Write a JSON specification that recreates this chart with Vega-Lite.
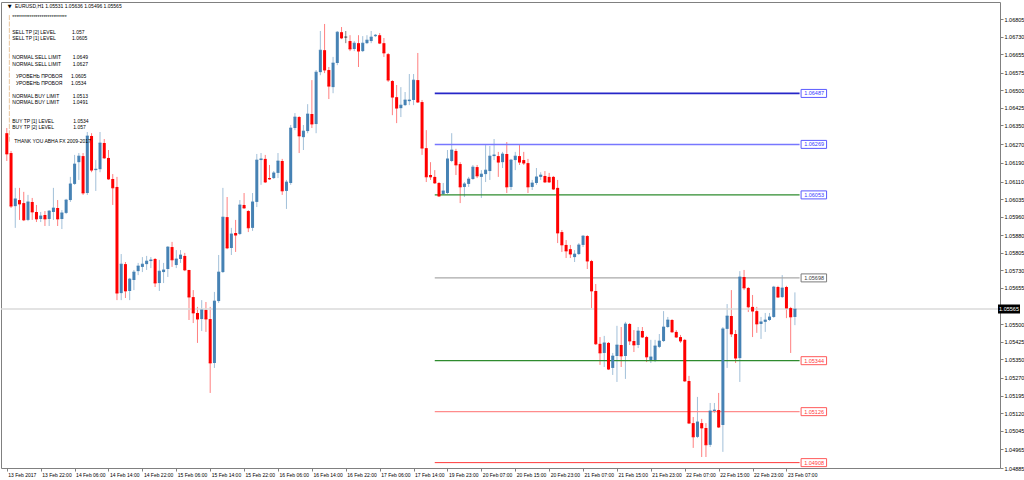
{
 "$schema": "https://vega.github.io/schema/vega-lite/v6.json",
 "width": 999,
 "height": 466,
 "autosize": {"type": "none"},
 "padding": {"left": 1, "top": 2, "right": 24, "bottom": 12},
 "background": "#ffffff",
 "config": {"view": {"stroke": "#808080", "strokeWidth": 1}, "font": "Liberation Sans", "axis": {"labelOverlap": false, "labelFlush": false, "labelBound": false, "labelSeparation": 0}},
 "resolve": {"scale": {"color": "independent", "stroke": "independent", "fill": "independent", "strokeWidth": "independent"}},
 "datasets": {
  "candles": [
   {"t":0,"o":1.06317,"h":1.06339,"l":1.06198,"c":1.06228},
   {"t":1,"o":1.06232,"h":1.06241,"l":1.05997,"c":1.06005},
   {"t":2,"o":1.06005,"h":1.06083,"l":1.05912,"c":1.06036},
   {"t":3,"o":1.06031,"h":1.06083,"l":1.05946,"c":1.06014},
   {"t":4,"o":1.06018,"h":1.06066,"l":1.05941,"c":1.05946},
   {"t":5,"o":1.05946,"h":1.06053,"l":1.05941,"c":1.06023},
   {"t":6,"o":1.06023,"h":1.06040,"l":1.05946,"c":1.05980},
   {"t":7,"o":1.05980,"h":1.06010,"l":1.05937,"c":1.05950},
   {"t":8,"o":1.05950,"h":1.05980,"l":1.05937,"c":1.05963},
   {"t":9,"o":1.05967,"h":1.05984,"l":1.05920,"c":1.05950},
   {"t":10,"o":1.05950,"h":1.05988,"l":1.05920,"c":1.05984},
   {"t":11,"o":1.05980,"h":1.06083,"l":1.05946,"c":1.05997},
   {"t":12,"o":1.05997,"h":1.06031,"l":1.05920,"c":1.05950},
   {"t":13,"o":1.05950,"h":1.05988,"l":1.05907,"c":1.05976},
   {"t":14,"o":1.05976,"h":1.06036,"l":1.05971,"c":1.06031},
   {"t":15,"o":1.06031,"h":1.06130,"l":1.06023,"c":1.06100},
   {"t":16,"o":1.06100,"h":1.06224,"l":1.06096,"c":1.06185},
   {"t":17,"o":1.06193,"h":1.06232,"l":1.06117,"c":1.06219},
   {"t":18,"o":1.06219,"h":1.06232,"l":1.06053,"c":1.06061},
   {"t":19,"o":1.06061,"h":1.06322,"l":1.06053,"c":1.06305},
   {"t":20,"o":1.06305,"h":1.06317,"l":1.06150,"c":1.06159},
   {"t":21,"o":1.06159,"h":1.06202,"l":1.06070,"c":1.06163},
   {"t":22,"o":1.06163,"h":1.06322,"l":1.06150,"c":1.06275},
   {"t":23,"o":1.06275,"h":1.06292,"l":1.06207,"c":1.06211},
   {"t":24,"o":1.06211,"h":1.06245,"l":1.06117,"c":1.06121},
   {"t":25,"o":1.06121,"h":1.06142,"l":1.06010,"c":1.06083},
   {"t":26,"o":1.06087,"h":1.06130,"l":1.05603,"c":1.05633},
   {"t":27,"o":1.05633,"h":1.05800,"l":1.05603,"c":1.05757},
   {"t":28,"o":1.05757,"h":1.05766,"l":1.05612,"c":1.05642},
   {"t":29,"o":1.05642,"h":1.05698,"l":1.05603,"c":1.05693},
   {"t":30,"o":1.05689,"h":1.05732,"l":1.05646,"c":1.05723},
   {"t":31,"o":1.05727,"h":1.05762,"l":1.05710,"c":1.05749},
   {"t":32,"o":1.05745,"h":1.05787,"l":1.05723,"c":1.05757},
   {"t":33,"o":1.05757,"h":1.05792,"l":1.05732,"c":1.05770},
   {"t":34,"o":1.05770,"h":1.05787,"l":1.05740,"c":1.05775},
   {"t":35,"o":1.05779,"h":1.05783,"l":1.05659,"c":1.05676},
   {"t":36,"o":1.05676,"h":1.05775,"l":1.05642,"c":1.05727},
   {"t":37,"o":1.05723,"h":1.05762,"l":1.05676,"c":1.05732},
   {"t":38,"o":1.05736,"h":1.05834,"l":1.05702,"c":1.05830},
   {"t":39,"o":1.05830,"h":1.05852,"l":1.05745,"c":1.05775},
   {"t":40,"o":1.05753,"h":1.05817,"l":1.05740,"c":1.05779},
   {"t":41,"o":1.05779,"h":1.05817,"l":1.05762,"c":1.05796},
   {"t":42,"o":1.05792,"h":1.05805,"l":1.05727,"c":1.05732},
   {"t":43,"o":1.05732,"h":1.05732,"l":1.05518,"c":1.05616},
   {"t":44,"o":1.05616,"h":1.05646,"l":1.05505,"c":1.05548},
   {"t":45,"o":1.05548,"h":1.05574,"l":1.05420,"c":1.05522},
   {"t":46,"o":1.05522,"h":1.05603,"l":1.05471,"c":1.05561},
   {"t":47,"o":1.05561,"h":1.05595,"l":1.05467,"c":1.05522},
   {"t":48,"o":1.05522,"h":1.05574,"l":1.05206,"c":1.05334},
   {"t":49,"o":1.05334,"h":1.05638,"l":1.05313,"c":1.05599},
   {"t":50,"o":1.05599,"h":1.05796,"l":1.05591,"c":1.05723},
   {"t":51,"o":1.05723,"h":1.06083,"l":1.05719,"c":1.05958},
   {"t":52,"o":1.05958,"h":1.06044,"l":1.05821,"c":1.05826},
   {"t":53,"o":1.05826,"h":1.05912,"l":1.05796,"c":1.05886},
   {"t":54,"o":1.05890,"h":1.05946,"l":1.05809,"c":1.05881},
   {"t":55,"o":1.05886,"h":1.06031,"l":1.05881,"c":1.06010},
   {"t":56,"o":1.06010,"h":1.06061,"l":1.05993,"c":1.05997},
   {"t":57,"o":1.05984,"h":1.05988,"l":1.05894,"c":1.05912},
   {"t":58,"o":1.05912,"h":1.06061,"l":1.05899,"c":1.06023},
   {"t":59,"o":1.06023,"h":1.06228,"l":1.06001,"c":1.06202},
   {"t":60,"o":1.06202,"h":1.06232,"l":1.06096,"c":1.06207},
   {"t":61,"o":1.06207,"h":1.06224,"l":1.06104,"c":1.06108},
   {"t":62,"o":1.06125,"h":1.06181,"l":1.06117,"c":1.06121},
   {"t":63,"o":1.06125,"h":1.06155,"l":1.06121,"c":1.06147},
   {"t":64,"o":1.06147,"h":1.06232,"l":1.06125,"c":1.06198},
   {"t":65,"o":1.06198,"h":1.06207,"l":1.06053,"c":1.06070},
   {"t":66,"o":1.06070,"h":1.06117,"l":1.05993,"c":1.06108},
   {"t":67,"o":1.06104,"h":1.06352,"l":1.06096,"c":1.06339},
   {"t":68,"o":1.06339,"h":1.06403,"l":1.06330,"c":1.06386},
   {"t":69,"o":1.06386,"h":1.06390,"l":1.06232,"c":1.06305},
   {"t":70,"o":1.06300,"h":1.06352,"l":1.06245,"c":1.06326},
   {"t":71,"o":1.06326,"h":1.06441,"l":1.06317,"c":1.06399},
   {"t":72,"o":1.06399,"h":1.06544,"l":1.06339,"c":1.06356},
   {"t":73,"o":1.06356,"h":1.06587,"l":1.06317,"c":1.06578},
   {"t":74,"o":1.06578,"h":1.06754,"l":1.06565,"c":1.06672},
   {"t":75,"o":1.06672,"h":1.06784,"l":1.06574,"c":1.06587},
   {"t":76,"o":1.06587,"h":1.06600,"l":1.06463,"c":1.06518},
   {"t":77,"o":1.06514,"h":1.06643,"l":1.06488,"c":1.06617},
   {"t":78,"o":1.06617,"h":1.06754,"l":1.06608,"c":1.06749},
   {"t":79,"o":1.06749,"h":1.06771,"l":1.06719,"c":1.06724},
   {"t":80,"o":1.06728,"h":1.06754,"l":1.06702,"c":1.06728},
   {"t":81,"o":1.06711,"h":1.06736,"l":1.06668,"c":1.06677},
   {"t":82,"o":1.06677,"h":1.06711,"l":1.06668,"c":1.06702},
   {"t":83,"o":1.06702,"h":1.06736,"l":1.06600,"c":1.06668},
   {"t":84,"o":1.06668,"h":1.06732,"l":1.06664,"c":1.06702},
   {"t":85,"o":1.06702,"h":1.06736,"l":1.06698,"c":1.06715},
   {"t":86,"o":1.06711,"h":1.06754,"l":1.06702,"c":1.06728},
   {"t":87,"o":1.06732,"h":1.06741,"l":1.06728,"c":1.06736},
   {"t":88,"o":1.06736,"h":1.06745,"l":1.06698,"c":1.06702},
   {"t":89,"o":1.06702,"h":1.06724,"l":1.06643,"c":1.06660},
   {"t":90,"o":1.06655,"h":1.06660,"l":1.06536,"c":1.06544},
   {"t":91,"o":1.06540,"h":1.06544,"l":1.06394,"c":1.06471},
   {"t":92,"o":1.06471,"h":1.06523,"l":1.06360,"c":1.06424},
   {"t":93,"o":1.06424,"h":1.06514,"l":1.06386,"c":1.06437},
   {"t":94,"o":1.06437,"h":1.06493,"l":1.06433,"c":1.06459},
   {"t":95,"o":1.06454,"h":1.06570,"l":1.06437,"c":1.06459},
   {"t":96,"o":1.06459,"h":1.06570,"l":1.06437,"c":1.06544},
   {"t":97,"o":1.06544,"h":1.06660,"l":1.06446,"c":1.06450},
   {"t":98,"o":1.06450,"h":1.06459,"l":1.06224,"c":1.06253},
   {"t":99,"o":1.06253,"h":1.06330,"l":1.06108,"c":1.06130},
   {"t":100,"o":1.06138,"h":1.06193,"l":1.06117,"c":1.06130},
   {"t":101,"o":1.06130,"h":1.06159,"l":1.06100,"c":1.06104},
   {"t":102,"o":1.06104,"h":1.06108,"l":1.06044,"c":1.06048},
   {"t":103,"o":1.06057,"h":1.06104,"l":1.06053,"c":1.06070},
   {"t":104,"o":1.06061,"h":1.06245,"l":1.06057,"c":1.06207},
   {"t":105,"o":1.06198,"h":1.06317,"l":1.06193,"c":1.06245},
   {"t":106,"o":1.06241,"h":1.06250,"l":1.06138,"c":1.06181},
   {"t":107,"o":1.06185,"h":1.06193,"l":1.06018,"c":1.06087},
   {"t":108,"o":1.06087,"h":1.06108,"l":1.06044,"c":1.06100},
   {"t":109,"o":1.06100,"h":1.06130,"l":1.06087,"c":1.06121},
   {"t":110,"o":1.06121,"h":1.06181,"l":1.06117,"c":1.06172},
   {"t":111,"o":1.06172,"h":1.06181,"l":1.06125,"c":1.06134},
   {"t":112,"o":1.06130,"h":1.06159,"l":1.06040,"c":1.06142},
   {"t":113,"o":1.06142,"h":1.06266,"l":1.06108,"c":1.06159},
   {"t":114,"o":1.06155,"h":1.06262,"l":1.06117,"c":1.06219},
   {"t":115,"o":1.06219,"h":1.06292,"l":1.06202,"c":1.06224},
   {"t":116,"o":1.06219,"h":1.06237,"l":1.06130,"c":1.06193},
   {"t":117,"o":1.06193,"h":1.06237,"l":1.06168,"c":1.06228},
   {"t":118,"o":1.06228,"h":1.06279,"l":1.06061,"c":1.06087},
   {"t":119,"o":1.06087,"h":1.06207,"l":1.06074,"c":1.06202},
   {"t":120,"o":1.06202,"h":1.06237,"l":1.06159,"c":1.06219},
   {"t":121,"o":1.06219,"h":1.06266,"l":1.06181,"c":1.06193},
   {"t":122,"o":1.06202,"h":1.06237,"l":1.06181,"c":1.06189},
   {"t":123,"o":1.06189,"h":1.06207,"l":1.06061,"c":1.06087},
   {"t":124,"o":1.06087,"h":1.06117,"l":1.06074,"c":1.06104},
   {"t":125,"o":1.06104,"h":1.06168,"l":1.06096,"c":1.06130},
   {"t":126,"o":1.06130,"h":1.06150,"l":1.06117,"c":1.06138},
   {"t":127,"o":1.06134,"h":1.06155,"l":1.06104,"c":1.06108},
   {"t":128,"o":1.06130,"h":1.06147,"l":1.06104,"c":1.06108},
   {"t":129,"o":1.06130,"h":1.06134,"l":1.06074,"c":1.06078},
   {"t":130,"o":1.06083,"h":1.06117,"l":1.05847,"c":1.05890},
   {"t":131,"o":1.05894,"h":1.05903,"l":1.05809,"c":1.05839},
   {"t":132,"o":1.05839,"h":1.05860,"l":1.05783,"c":1.05813},
   {"t":133,"o":1.05821,"h":1.05839,"l":1.05783,"c":1.05800},
   {"t":134,"o":1.05787,"h":1.05817,"l":1.05766,"c":1.05800},
   {"t":135,"o":1.05800,"h":1.05847,"l":1.05796,"c":1.05839},
   {"t":136,"o":1.05839,"h":1.05881,"l":1.05830,"c":1.05877},
   {"t":137,"o":1.05877,"h":1.05881,"l":1.05736,"c":1.05770},
   {"t":138,"o":1.05770,"h":1.05775,"l":1.05569,"c":1.05642},
   {"t":139,"o":1.05642,"h":1.05672,"l":1.05411,"c":1.05416},
   {"t":140,"o":1.05416,"h":1.05445,"l":1.05326,"c":1.05377},
   {"t":141,"o":1.05377,"h":1.05450,"l":1.05317,"c":1.05420},
   {"t":142,"o":1.05420,"h":1.05424,"l":1.05304,"c":1.05308},
   {"t":143,"o":1.05313,"h":1.05377,"l":1.05283,"c":1.05364},
   {"t":144,"o":1.05364,"h":1.05493,"l":1.05253,"c":1.05411},
   {"t":145,"o":1.05411,"h":1.05488,"l":1.05317,"c":1.05364},
   {"t":146,"o":1.05364,"h":1.05510,"l":1.05266,"c":1.05501},
   {"t":147,"o":1.05501,"h":1.05505,"l":1.05411,"c":1.05428},
   {"t":148,"o":1.05428,"h":1.05475,"l":1.05381,"c":1.05411},
   {"t":149,"o":1.05411,"h":1.05488,"l":1.05398,"c":1.05471},
   {"t":150,"o":1.05471,"h":1.05488,"l":1.05441,"c":1.05445},
   {"t":151,"o":1.05445,"h":1.05450,"l":1.05338,"c":1.05360},
   {"t":152,"o":1.05347,"h":1.05433,"l":1.05334,"c":1.05360},
   {"t":153,"o":1.05347,"h":1.05433,"l":1.05338,"c":1.05407},
   {"t":154,"o":1.05403,"h":1.05458,"l":1.05398,"c":1.05428},
   {"t":155,"o":1.05428,"h":1.05556,"l":1.05424,"c":1.05488},
   {"t":156,"o":1.05488,"h":1.05531,"l":1.05484,"c":1.05518},
   {"t":157,"o":1.05518,"h":1.05522,"l":1.05463,"c":1.05467},
   {"t":158,"o":1.05467,"h":1.05475,"l":1.05441,"c":1.05445},
   {"t":159,"o":1.05445,"h":1.05454,"l":1.05420,"c":1.05428},
   {"t":160,"o":1.05433,"h":1.05437,"l":1.05253,"c":1.05257},
   {"t":161,"o":1.05257,"h":1.05279,"l":1.05073,"c":1.05077},
   {"t":162,"o":1.05077,"h":1.05103,"l":1.04971,"c":1.05018},
   {"t":163,"o":1.05018,"h":1.05189,"l":1.05013,"c":1.05082},
   {"t":164,"o":1.05077,"h":1.05095,"l":1.04932,"c":1.05056},
   {"t":165,"o":1.05056,"h":1.05077,"l":1.04932,"c":1.04984},
   {"t":166,"o":1.04984,"h":1.05163,"l":1.04975,"c":1.05129},
   {"t":167,"o":1.05129,"h":1.05163,"l":1.05120,"c":1.05133},
   {"t":168,"o":1.05133,"h":1.05206,"l":1.05056,"c":1.05060},
   {"t":169,"o":1.05069,"h":1.05488,"l":1.04954,"c":1.05480},
   {"t":170,"o":1.05480,"h":1.05586,"l":1.05313,"c":1.05535},
   {"t":171,"o":1.05535,"h":1.05646,"l":1.05445,"c":1.05458},
   {"t":172,"o":1.05458,"h":1.05475,"l":1.05334,"c":1.05355},
   {"t":173,"o":1.05355,"h":1.05727,"l":1.05253,"c":1.05702},
   {"t":174,"o":1.05702,"h":1.05732,"l":1.05646,"c":1.05655},
   {"t":175,"o":1.05655,"h":1.05659,"l":1.05552,"c":1.05574},
   {"t":176,"o":1.05574,"h":1.05625,"l":1.05445,"c":1.05556},
   {"t":177,"o":1.05556,"h":1.05574,"l":1.05463,"c":1.05501},
   {"t":178,"o":1.05501,"h":1.05531,"l":1.05437,"c":1.05510},
   {"t":179,"o":1.05510,"h":1.05548,"l":1.05467,"c":1.05518},
   {"t":180,"o":1.05518,"h":1.05548,"l":1.05514,"c":1.05531},
   {"t":181,"o":1.05531,"h":1.05664,"l":1.05527,"c":1.05659},
   {"t":182,"o":1.05659,"h":1.05664,"l":1.05612,"c":1.05616},
   {"t":183,"o":1.05616,"h":1.05710,"l":1.05612,"c":1.05655},
   {"t":184,"o":1.05659,"h":1.05664,"l":1.05526,"c":1.05569},
   {"t":185,"o":1.05569,"h":1.05574,"l":1.05377,"c":1.05531},
   {"t":186,"o":1.05531,"h":1.05636,"l":1.05496,"c":1.05565}
  ],
  "levels": [
   {"line":"sell1","side":"sell","price":1.06487,"start":101,"end":187.1,"txt":"1.06487"},
   {"line":"sell2","side":"sell","price":1.06269,"start":101,"end":187.1,"txt":"1.06269"},
   {"line":"break1","side":"sell","price":1.06053,"start":101,"end":187.1,"txt":"1.06053"},
   {"line":"tp","side":"mid","price":1.05698,"start":101,"end":187.1,"txt":"1.05698"},
   {"line":"break2","side":"buy","price":1.05344,"start":101,"end":187.1,"txt":"1.05344"},
   {"line":"buy1","side":"buy","price":1.05126,"start":101,"end":187.1,"txt":"1.05126"},
   {"line":"buy2","side":"buy","price":1.04908,"start":101,"end":187.1,"txt":"1.04908"}
  ],
  "last": [{"p":1.05565,"txt":"1.05565"}],
  "notes": [
   {"i":1.29,"p":1.06812,"txt":"****************************"},
   {"i":1.29,"p":1.06749,"txt":"SELL TP [2] LEVEL"},
   {"i":15.4,"p":1.06749,"txt":"1.057"},
   {"i":1.29,"p":1.06722,"txt":"SELL TP [1] LEVEL"},
   {"i":15.4,"p":1.06722,"txt":"1.0605"},
   {"i":1.29,"p":1.06641,"txt":"NORMAL SELL LIMIT"},
   {"i":15.54,"p":1.06641,"txt":"1.0649"},
   {"i":1.29,"p":1.06614,"txt":"NORMAL SELL LIMIT"},
   {"i":15.54,"p":1.06614,"txt":"1.0627"},
   {"i":2.15,"p":1.06560,"txt":"УРОВЕНЬ ПРОБОЯ"},
   {"i":15.16,"p":1.06560,"txt":"1.0605"},
   {"i":2.15,"p":1.06533,"txt":"УРОВЕНЬ ПРОБОЯ"},
   {"i":15.16,"p":1.06533,"txt":"1.0534"},
   {"i":1.29,"p":1.06477,"txt":"NORMAL BUY LIMIT"},
   {"i":15.54,"p":1.06477,"txt":"1.0513"},
   {"i":1.29,"p":1.06450,"txt":"NORMAL BUY LIMIT"},
   {"i":15.54,"p":1.06450,"txt":"1.0491"},
   {"i":1.29,"p":1.06369,"txt":"BUY TP [1]  LEVEL"},
   {"i":15.7,"p":1.06369,"txt":"1.0534"},
   {"i":1.29,"p":1.06342,"txt":"BUY TP [2]  LEVEL"},
   {"i":15.7,"p":1.06342,"txt":"1.057"},
   {"i":1.75,"p":1.06283,"txt":"THANK YOU ABHA FX 2009-2017"},
   {"i":1.92,"p":1.06862,"txt":"EURUSD,H1  1.05531 1.05636 1.05496 1.05565"}
  ],
  "marker": [{"i":0.21,"p":1.06862,"txt":"▼"}],
  "strip": [{"i":0.6,"p1":1.06822,"p2":1.06275}]
 },
 "layer": [
  {
   "data": {"name": "candles"},
   "mark": {"type": "rule", "strokeWidth": 1, "opacity": 0.5},
   "encoding": {
    "x": {"field": "t", "type": "quantitative", "title": null, "scale": {"domain": [-0.19, 233.22], "nice": false, "zero": false},
     "axis": {"orient": "bottom", "title": null, "domain": false, "grid": false, "tickCount": 60, "values": [0,8,16,24,32,40,48,56,64,72,80,88,96,104,112,120,128,136,144,152,160,168,176,184],
      "labelExpr": "['13 Feb 2017','13 Feb 22:00','14 Feb 06:00','14 Feb 14:00','14 Feb 22:00','15 Feb 06:00','15 Feb 14:00','15 Feb 22:00','16 Feb 06:00','16 Feb 14:00','16 Feb 22:00','17 Feb 06:00','17 Feb 14:00','19 Feb 23:00','20 Feb 07:00','20 Feb 15:00','20 Feb 23:00','21 Feb 07:00','21 Feb 15:00','21 Feb 23:00','22 Feb 07:00','22 Feb 15:00','22 Feb 23:00','23 Feb 07:00'][round(datum.value/8)]",
      "tickSize": 3, "tickColor": "#808080", "labelAlign": "left", "labelBaseline": "top", "labelPadding": 1, "labelOffset": 1, "labelFontSize": 5, "labelColor": "#000000", "labelFont": "Liberation Sans", "labelOverlap": false, "labelFlush": false}},
    "y": {"field": "l", "type": "quantitative", "title": null, "scale": {"domain": [1.04885, 1.06878], "nice": false, "zero": false},
     "axis": {"orient": "right", "title": null, "domain": false, "grid": false, "tickCount": 60, "values": [1.06805,1.0673,1.06655,1.06575,1.065,1.06425,1.0635,1.0627,1.0619,1.0611,1.06035,1.0596,1.0588,1.05805,1.0573,1.05655,1.055,1.05425,1.0535,1.0527,1.05195,1.0512,1.05045,1.04965,1.04885],
      "labelExpr": "format(datum.value, '.5f')", "tickSize": 3, "tickColor": "#808080", "labelAlign": "left", "labelBaseline": "middle", "labelPadding": 1, "labelFontSize": 5.5, "labelColor": "#000000", "labelFont": "Liberation Sans", "labelOverlap": false, "labelFlush": false}},
    "y2": {"field": "h"},
    "color": {"condition": [{"test": "datum.c > datum.o", "value": "#4682B4"}, {"test": "datum.c < datum.o", "value": "#FF0000"}], "value": "#000000"}
   }
  },
  {
   "data": {"name": "last"},
   "mark": {"type": "rule", "color": "#dadada", "strokeWidth": 1.5},
   "encoding": {
    "y": {"field": "p", "type": "quantitative", "title": null}
   }
  },
  {
   "data": {"name": "levels"},
   "mark": {"type": "rule"},
   "encoding": {
    "x": {"field": "start", "type": "quantitative", "title": null},
    "x2": {"field": "end"},
    "y": {"field": "price", "type": "quantitative", "title": null},
    "color": {"field": "line", "type": "nominal", "legend": null, "scale": {"domain": ["sell1","sell2","break1","tp","break2","buy1","buy2"], "range": ["#2626c8","#7777ff","#2e8b2e","#a9a9a9","#2e8b2e","#ff8c8c","#ff3a3a"]}},
    "strokeWidth": {"field": "line", "type": "nominal", "legend": null, "scale": {"domain": ["sell1","sell2","break1","tp","break2","buy1","buy2"], "range": [1.6,1,1.6,1.5,1.6,1,1.6]}}
   }
  },
  {
   "data": {"name": "candles"},
   "mark": {"type": "bar", "size": 3},
   "encoding": {
    "x": {"field": "t", "type": "quantitative", "title": null},
    "y": {"field": "o", "type": "quantitative", "title": null},
    "y2": {"field": "c"},
    "color": {"condition": [{"test": "datum.c > datum.o", "value": "#4682B4"}, {"test": "datum.c < datum.o", "value": "#FF0000"}], "value": "#000000"}
   }
  },
  {
   "data": {"name": "candles"},
   "mark": {"type": "tick", "orient": "horizontal", "size": 3, "thickness": 1},
   "encoding": {
    "x": {"field": "t", "type": "quantitative", "title": null},
    "y": {"field": "c", "type": "quantitative", "title": null},
    "color": {"condition": [{"test": "datum.c > datum.o", "value": "#4682B4"}, {"test": "datum.c < datum.o", "value": "#FF0000"}], "value": "#000000"}
   }
  },
  {
   "data": {"name": "levels"},
   "mark": {"type": "rect", "fill": "#ffffff", "strokeWidth": 1, "xOffset": 1.5, "x2Offset": 27, "yOffset": -4, "y2Offset": 4},
   "encoding": {
    "x": {"field": "end", "type": "quantitative", "title": null},
    "x2": {"field": "end"},
    "y": {"field": "price", "type": "quantitative", "title": null},
    "y2": {"field": "price"},
    "stroke": {"field": "side", "type": "nominal", "legend": null, "scale": {"domain": ["sell","mid","buy"], "range": ["#5a5aff","#7a7a7a","#ff5a5a"]}}
   }
  },
  {
   "data": {"name": "levels"},
   "mark": {"type": "text", "fontSize": 5.5, "align": "center", "baseline": "middle", "dx": 14.5, "font": "Liberation Sans"},
   "encoding": {
    "x": {"field": "end", "type": "quantitative", "title": null},
    "y": {"field": "price", "type": "quantitative", "title": null},
    "text": {"field": "txt"},
    "fill": {"field": "side", "type": "nominal", "legend": null, "scale": {"domain": ["sell","mid","buy"], "range": ["#3a3aff","#404040","#ff3a3a"]}}
   }
  },
  {
   "data": {"name": "last"},
   "mark": {"type": "rect", "fill": "#000000", "xOffset": 3, "x2Offset": 25, "yOffset": -4.5, "y2Offset": 4.5},
   "encoding": {
    "x": {"datum": 233.22, "type": "quantitative"},
    "x2": {"datum": 233.22},
    "y": {"field": "p", "type": "quantitative", "title": null},
    "y2": {"field": "p"}
   }
  },
  {
   "data": {"name": "last"},
   "mark": {"type": "text", "fontSize": 5.5, "align": "center", "baseline": "middle", "dx": 14, "color": "#ffffff", "font": "Liberation Sans"},
   "encoding": {
    "x": {"datum": 233.22, "type": "quantitative"},
    "y": {"field": "p", "type": "quantitative", "title": null},
    "text": {"field": "txt"}
   }
  },
  {
   "data": {"name": "strip"},
   "mark": {"type": "rule", "color": "#e8c49c", "strokeWidth": 1, "strokeDash": [5, 1.4]},
   "encoding": {
    "x": {"field": "i", "type": "quantitative", "title": null},
    "y": {"field": "p1", "type": "quantitative", "title": null},
    "y2": {"field": "p2"}
   }
  },
  {
   "data": {"name": "notes"},
   "mark": {"type": "text", "fontSize": 5, "align": "left", "baseline": "middle", "color": "#000000", "font": "Liberation Sans"},
   "encoding": {
    "x": {"field": "i", "type": "quantitative", "title": null},
    "y": {"field": "p", "type": "quantitative", "title": null},
    "text": {"field": "txt"}
   }
  },
  {
   "data": {"name": "marker"},
   "mark": {"type": "text", "fontSize": 5, "align": "left", "baseline": "middle", "color": "#000000", "font": "DejaVu Sans"},
   "encoding": {
    "x": {"field": "i", "type": "quantitative", "title": null},
    "y": {"field": "p", "type": "quantitative", "title": null},
    "text": {"field": "txt"}
   }
  }
 ]
}
